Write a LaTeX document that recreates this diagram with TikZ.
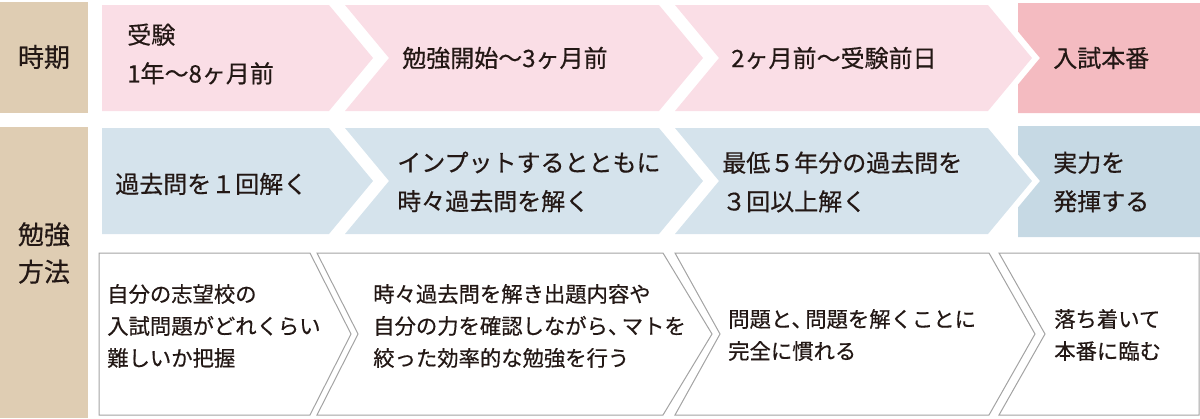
\documentclass[tikz,border=0pt]{standalone}
\usepackage{fontspec}
\newfontfamily\jp[FakeBold=0.5]{Noto Sans CJK JP}
\definecolor{colTan}{HTML}{DFCDB3}
\definecolor{colPink}{HTML}{FADEE6}
\definecolor{colPinkD}{HTML}{F4BBC1}
\definecolor{colBlue}{HTML}{D5E3EC}
\definecolor{colBlueD}{HTML}{C6D9E4}
\definecolor{colLine}{HTML}{A3A3A3}
\definecolor{colInk}{HTML}{231815}
\tikzset{
  txt/.style={inner sep=0pt, anchor=west, align=left, text=colInk,
    font=\jp\fontsize{18}{29}\selectfont},
  smalltxt/.style={txt, font=\jp\fontsize{16}{24}\selectfont},
  headtxt/.style={inner sep=0pt, align=center, text=colInk,
    font=\jp\fontsize{19.5}{28}\selectfont},
  whitebox/.style={fill=white, draw=colLine, line width=0.75pt, line join=miter},
}
\begin{document}
\begin{tikzpicture}[x=0.75pt,y=-0.75pt]
  \useasboundingbox (0,0) rectangle (1200,418);
  \fill[colTan] (0,2) rectangle (88,113);
  \fill[colTan] (0,127) rectangle (88,418);
  \node[headtxt] (jiki) at (44,57) {時期};
  \node[headtxt] (hoho) at (44,253) {勉強\\方法};

  \fill[colPink] (102,5)--(329,5)--(373,58)--(329,111)--(102,111)--cycle;
  \fill[colPink] (345,5)--(659,5)--(703,58)--(659,111)--(345,111)--(389,58)--cycle;
  \fill[colPink] (675,5)--(988,5)--(1032,58)--(988,111)--(675,111)--(719,58)--cycle;
  \fill[colPinkD] (1018,3)--(1200,3)--(1200,113)--(1018,113)--(1018,84.5)--(1040,58)--(1018,31.5)--cycle;
  \node[txt] (p1) at (127,54) {受験\\1年～8ヶ月前};
  \node[txt] (p2) at (402,58) {勉強開始～3ヶ月前};
  \node[txt] (p3) at (731,58) {2ヶ月前～受験前日};
  \node[txt] (p4) at (1053,58) {入試本番};

  \fill[colBlue] (102,128)--(329,128)--(373,181)--(329,234)--(102,234)--cycle;
  \fill[colBlue] (345,128)--(659,128)--(703,181)--(659,234)--(345,234)--(389,181)--cycle;
  \fill[colBlue] (675,128)--(988,128)--(1032,181)--(988,234)--(675,234)--(719,181)--cycle;
  \fill[colBlueD] (1018,126)--(1200,126)--(1200,237)--(1018,237)--(1018,207.5)--(1040,181)--(1018,154.5)--cycle;
  \node[txt] (b1) at (115,184) {過去問を１回解く};
  \node[txt] (b2) at (397,182) {インプットするとともに\\時々過去問を解く};
  \node[txt] (b3) at (722,182) {最低５年分の過去問を\\３回以上解く};
  \node[txt] (b4) at (1053,182) {実力を\\発揮する};

  \draw[whitebox] (99,253)--(310,253)--(351,334)--(310,415)--(99,415)--cycle;
  \draw[whitebox] (317,253)--(663,253)--(712,334)--(663,415)--(317,415)--(358,334)--cycle;
  \draw[whitebox] (675,253)--(989,253)--(1035,334)--(989,415)--(675,415)--(720,334)--cycle;
  \draw[whitebox] (999,253)--(1199,253)--(1199,415)--(999,415)--(1045,334)--cycle;
  \node[smalltxt] (w1) at (107,326) {自分の志望校の\\入試問題がどれくらい\\難しいか把握};
  \node[smalltxt] (w2) at (373,326) {時々過去問を解き出題内容や\\自分の力を確認しながら、\hspace{-0.35em}マトを\\絞った効率的な勉強を行う};
  \node[smalltxt] (w3) at (728,335) {問題と、\hspace{-0.35em}問題を解くことに\\完全に慣れる};
  \node[smalltxt] (w4) at (1054,335) {落ち着いて\\本番に臨む};
\end{tikzpicture}
\end{document}
